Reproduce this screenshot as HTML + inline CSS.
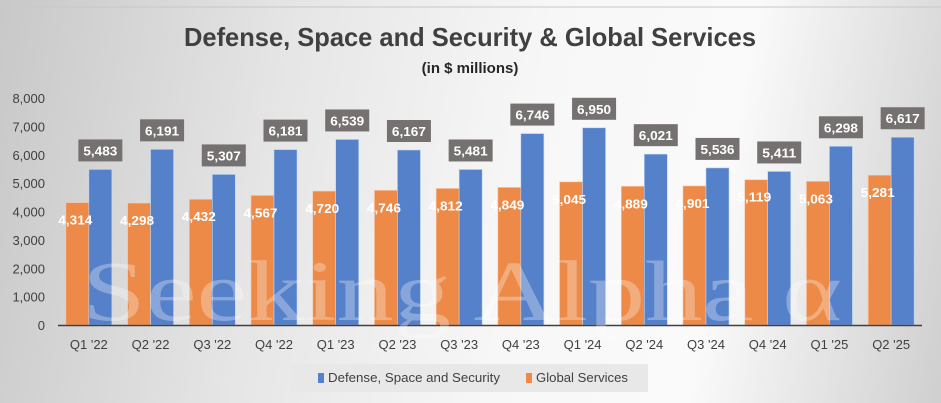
<!DOCTYPE html>
<html><head><meta charset="utf-8"><style>
body{margin:0;width:941px;height:403px;overflow:hidden;font-family:"Liberation Sans",sans-serif;}
#bg{position:absolute;left:0;top:0;width:941px;height:403px;background:linear-gradient(100deg,#c8c8c8 0%,#e6e6e6 30%,#f7f7f7 55%,#fafafa 75%,#cfcfcf 100%);}
</style></head><body>
<div id="bg"></div>
<svg id="c" width="941" height="403" style="position:absolute;left:0;top:0">
<line x1="0" y1="7" x2="941" y2="7" stroke="#c8c8c8"/>
<text x="470" y="46" text-anchor="middle" font-size="26" font-weight="bold" fill="#404040" textLength="572" lengthAdjust="spacingAndGlyphs">Defense, Space and Security &amp; Global Services</text>
<text x="470" y="73" text-anchor="middle" font-size="15" font-weight="bold" fill="#262626">(in $ millions)</text>
<g id="plot"></g>
<text x="462" y="320" text-anchor="middle" font-size="86" fill="#ffffff" fill-opacity="0.3" font-family="Liberation Serif,serif" textLength="760" lengthAdjust="spacingAndGlyphs">Seeking Alpha α</text>
<g>
<rect x="291" y="364" width="357" height="28" fill="#e8e8e8"/>
<rect x="318" y="373" width="6" height="10" fill="#5580ca"/>
<text x="328" y="382" font-size="13" fill="#404040" textLength="172" lengthAdjust="spacingAndGlyphs">Defense, Space and Security</text>
<rect x="526" y="373" width="6" height="10" fill="#ed8a48"/>
<text x="536" y="382" font-size="13" fill="#404040" textLength="92" lengthAdjust="spacingAndGlyphs">Global Services</text>
</g>
</svg>
<script>
const categories=["Q1 '22","Q2 '22","Q3 '22","Q4 '22","Q1 '23","Q2 '23","Q3 '23","Q4 '23","Q1 '24","Q2 '24","Q3 '24","Q4 '24","Q1 '25","Q2 '25"];
const dssValues=[5483,6191,5307,6181,6539,6167,5481,6746,6950,6021,5536,5411,6298,6617];
const gsValues=[4314,4298,4432,4567,4720,4746,4812,4849,5045,4889,4901,5119,5063,5281];
const yTicks=[0,1000,2000,3000,4000,5000,6000,7000,8000];
const NS="http://www.w3.org/2000/svg";
const g=document.getElementById('plot');
const x0=58,x1=922,y0=325,yTop=98,yMax=8000;
const step=(x1-x0)/categories.length;
function y(v){return y0-(v/yMax)*(y0-yTop);}
function cx(i){return x0+step*(i+0.5);}
function mk(t,a,txt){const e=document.createElementNS(NS,t);for(const k in a)e.setAttribute(k,a[k]);if(txt!==undefined)e.textContent=txt;g.appendChild(e);return e;}
const fmt=v=>v.toLocaleString('en-US');
yTicks.forEach(v=>{
 const e=mk('text',{x:45,y:y(v)+5,'text-anchor':'end','font-size':13,fill:'#404040'},fmt(v));
 
 
});
const bw=23;
categories.forEach((c,i)=>{
 const o=mk('rect',{x:cx(i)-bw,y:y(gsValues[i]),width:bw,height:y0-y(gsValues[i]),fill:'#ed8a48',stroke:'#f8cbad','stroke-width':0.6});
 
 
 const b=mk('rect',{x:cx(i),y:y(dssValues[i]),width:bw,height:y0-y(dssValues[i]),fill:'#5580ca',stroke:'#bdd7ee','stroke-width':0.6});
 
 
 const ol=mk('text',{x:cx(i)-bw/2-2,y:y(gsValues[i])+22,'text-anchor':'middle','font-size':13,'font-weight':'bold',fill:'#ffffff',textLength:34,lengthAdjust:'spacingAndGlyphs'},fmt(gsValues[i]));
 
 
 const by=y(dssValues[i]);
 const bb=mk('rect',{x:cx(i)+bw/2-22,y:by-30,width:44,height:22,fill:'#767171'});
 
 
 const bl=mk('text',{x:cx(i)+bw/2,y:by-14,'text-anchor':'middle','font-size':13,'font-weight':'bold',fill:'#ffffff',textLength:34,lengthAdjust:'spacingAndGlyphs'},fmt(dssValues[i]));
 
 
 const xl=mk('text',{x:cx(i),y:349,'text-anchor':'middle','font-size':13,fill:'#404040'},c);
 
 
});
const ax=mk('line',{x1:x0,y1:y0+0.5,x2:x1,y2:y0+0.5,stroke:'#404040','stroke-width':1.5});


</script>
</body></html>
